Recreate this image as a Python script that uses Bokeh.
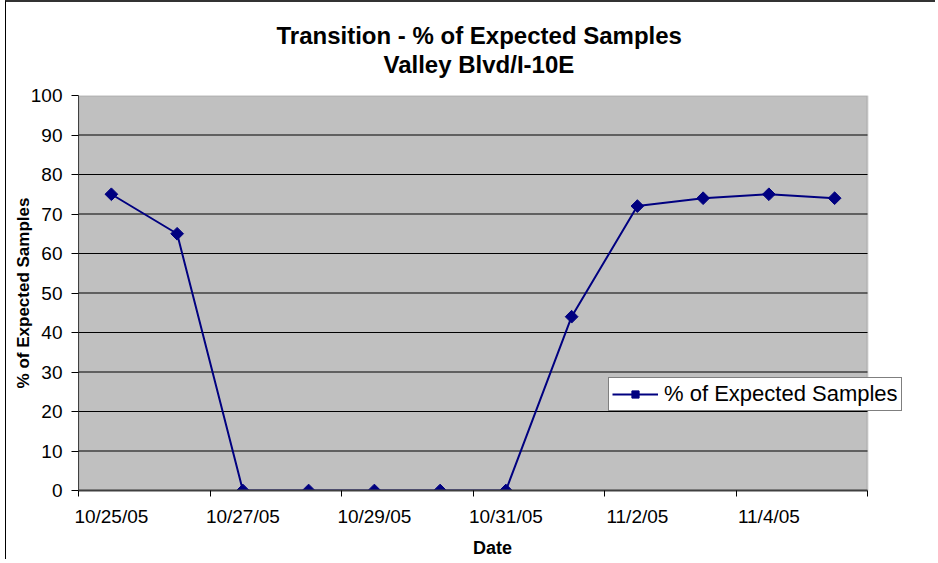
from bokeh.plotting import figure
from bokeh.models import Range1d, FixedTicker, Title, Legend, LegendItem, BoxAnnotation
from bokeh.embed import file_html
from bokeh.resources import INLINE

dates = ["10/25/05", "10/26/05", "10/27/05", "10/28/05", "10/29/05", "10/30/05",
         "10/31/05", "11/1/05", "11/2/05", "11/3/05", "11/4/05", "11/5/05"]
pct_expected = [75, 65, 0, 0, 0, 0, 0, 44, 72, 74, 75, 74]
y_ticks = [0, 10, 20, 30, 40, 50, 60, 70, 80, 90, 100]
title_line1 = "Transition - % of Expected Samples"
title_line2 = "Valley Blvd/I-10E"
series_name = "% of Expected Samples"

FONT = "Liberation Sans"
NAVY = "#000080"
GRAY = "#C0C0C0"

n = len(dates)
xs = list(range(n))

# layout (pixels)
W, H = 930, 559
B_LEFT, B_RIGHT, B_TOP, B_BOTTOM = 72, 30, 93, 71
PLOT_PX = 789                      # width of the gray plot area
FRAME_PX = W - B_LEFT - B_RIGHT    # frame extends right so the legend is not clipped
x_end = -0.5 + n * FRAME_PX / PLOT_PX

p = figure(width=W, height=H,
           min_border_left=B_LEFT, min_border_top=B_TOP,
           min_border_right=B_RIGHT, min_border_bottom=B_BOTTOM,
           x_range=Range1d(-0.5, x_end), y_range=Range1d(y_ticks[0], y_ticks[-1]),
           output_backend="svg", toolbar_location=None, title=None,
           background_fill_color="white", border_fill_color="white")
p.outline_line_color = None
p.styles = {"margin-left": "5px", "border-top": "2px solid #333333",
            "border-left": "1px solid #000000"}

# gray plot area
area = BoxAnnotation(left=-0.5, right=n - 0.5, bottom=y_ticks[0], top=y_ticks[-1],
                     fill_color=GRAY, fill_alpha=1, line_color="#808080", line_width=2,
                     level="image")
p.add_layout(area)

# titles (bottom padding keeps the second line away from the plot area)
t2 = Title(text=title_line2, align="left", offset=305, text_font=FONT, text_font_size="24px",
           text_font_style="bold", text_color="black", standoff=0,
           padding=dict(left=0, right=0, top=0, bottom=18))
t1 = Title(text=title_line1, align="left", offset=198, text_font=FONT, text_font_size="24px",
           text_font_style="bold", text_color="black", standoff=0)
p.add_layout(t2, "above")
p.add_layout(t1, "above")

# horizontal grid lines limited to the plot area
p.xgrid.visible = False
p.ygrid.visible = False
grid_vals = y_ticks[1:-1]
p.segment(x0=[-0.5] * len(grid_vals), x1=[n - 0.5] * len(grid_vals),
          y0=grid_vals, y1=grid_vals, line_color="black", line_width=1, level="underlay")

# x axis: labels at every other category, tick marks at boundaries
label_idx = list(range(0, n, 2))
boundaries = [i - 0.5 for i in range(0, n + 1, 2)]
xa = p.xaxis[0]
xa.bounds = (-0.5, n - 0.5)
xa.ticker = FixedTicker(ticks=label_idx, minor_ticks=boundaries)
xa.major_label_overrides = {i: dates[i] for i in label_idx}
xa.major_tick_in = 0
xa.major_tick_out = 0
xa.minor_tick_in = 0
xa.minor_tick_out = 6
xa.minor_tick_line_color = "black"
xa.axis_line_color = "#404040"
xa.axis_line_width = 2
xa.major_label_text_font = FONT
xa.major_label_text_font_size = "19px"
xa.major_label_text_color = "black"
xa.major_label_standoff = 9
xa.axis_label = "Date"
xa.axis_label_text_font = FONT
xa.axis_label_text_font_size = "18px"
xa.axis_label_text_font_style = "bold"
xa.axis_label_text_color = "black"
xa.axis_label_standoff = 8

ya = p.yaxis[0]
ya.ticker = FixedTicker(ticks=y_ticks, minor_ticks=[])
ya.major_tick_in = 0
ya.major_tick_out = 7
ya.major_tick_line_color = "black"
ya.axis_line_color = "#404040"
ya.axis_line_width = 1
ya.major_label_text_font = FONT
ya.major_label_text_font_size = "19px"
ya.major_label_text_color = "black"
ya.major_label_standoff = 9
ya.axis_label = series_name
ya.axis_label_text_font = FONT
ya.axis_label_text_font_size = "17px"
ya.axis_label_text_font_style = "bold"
ya.axis_label_text_color = "black"
ya.axis_label_standoff = -5

ln = p.line(xs, pct_expected, line_color=NAVY, line_width=2)
mk = p.scatter(xs, pct_expected, marker="square", angle=0.785398, size=9,
               fill_color=NAVY, line_color=NAVY)

legend = Legend(items=[LegendItem(label=series_name, renderers=[ln, mk])],
                location=(530, 79), orientation="vertical",
                border_line_color="black", border_line_width=1,
                background_fill_color="white", background_fill_alpha=1,
                label_text_font=FONT, label_text_font_size="22px", label_text_color="black",
                glyph_width=46, glyph_height=18, label_height=18, label_standoff=6,
                padding=3, margin=0, spacing=0)
p.add_layout(legend, "center")

open("out.html", "w").write(file_html(p, INLINE))
